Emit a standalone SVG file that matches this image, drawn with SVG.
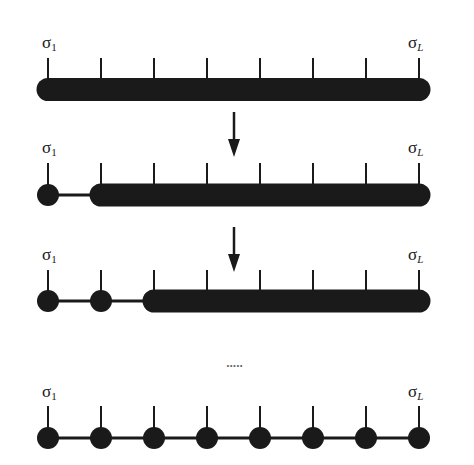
<svg xmlns="http://www.w3.org/2000/svg" width="474" height="465" viewBox="0 0 474 465">
<defs>
<style>
.tk{stroke:#1a1a1a;stroke-width:2}
.ln{stroke:#1a1a1a;stroke-width:3}
.bar{stroke:#1a1a1a;stroke-width:23;stroke-linecap:round}
.dot{fill:#1a1a1a}
.ar{stroke:#1a1a1a;stroke-width:2.5}
.lb{font-family:"Liberation Serif",serif;font-size:17px;fill:#1a1a1a}
.sb{font-size:11px}
</style>
<marker id="ah" viewBox="0 0 18 12" refX="11" refY="6" markerWidth="18" markerHeight="12" markerUnits="userSpaceOnUse" orient="auto">
<path d="M0,0 L18,6 L0,12 Z" fill="#1a1a1a"/>
</marker>
</defs>
<rect width="474" height="465" fill="#fff"/>
<g id="connectors">
<line class="ln" x1="48" y1="195" x2="101" y2="195"/>
<line class="ln" x1="48" y1="301" x2="154" y2="301"/>
<line class="ln" x1="48" y1="438" x2="419" y2="438"/>
<line class="ar" x1="234" y1="112" x2="234" y2="150" marker-end="url(#ah)"/>
<line class="ar" x1="234" y1="227" x2="234" y2="265" marker-end="url(#ah)"/>
</g>
<g id="row1">
<path class="tk" d="M48,58V89M101,58V89M154,58V89M207,58V89M260,58V89M313,58V89M366,58V89M419,58V89"/>
<line class="bar" x1="48" y1="89.5" x2="419" y2="89.5"/>
<text class="lb" x="42" y="48">σ<tspan class="sb" dy="3">1</tspan></text>
<text class="lb" x="408" y="48">σ<tspan class="sb" dy="3" font-style="italic">L</tspan></text>
</g>
<g id="row2">
<path class="tk" d="M48,163V195M101,163V195M154,163V195M207,163V195M260,163V195M313,163V195M366,163V195M419,163V195"/>
<circle class="dot" cx="48" cy="195" r="11"/>
<line class="bar" x1="101" y1="195" x2="419" y2="195"/>
<text class="lb" x="42" y="153">σ<tspan class="sb" dy="3">1</tspan></text>
<text class="lb" x="408" y="153">σ<tspan class="sb" dy="3" font-style="italic">L</tspan></text>
</g>
<g id="row3">
<path class="tk" d="M48,270V301M101,270V301M154,270V301M207,270V301M260,270V301M313,270V301M366,270V301M419,270V301"/>
<circle class="dot" cx="48" cy="301" r="11"/>
<circle class="dot" cx="101" cy="301" r="11"/>
<line class="bar" x1="154" y1="301" x2="419" y2="301"/>
<text class="lb" x="42" y="260">σ<tspan class="sb" dy="3">1</tspan></text>
<text class="lb" x="408" y="260">σ<tspan class="sb" dy="3" font-style="italic">L</tspan></text>
</g>
<g id="ellipsis">
<text x="234.5" y="367" text-anchor="middle" font-family="Liberation Sans,sans-serif" font-size="12" font-weight="bold" fill="#666">.....</text>
</g>
<g id="row4">
<path class="tk" d="M48,406V438M101,406V438M154,406V438M207,406V438M260,406V438M313,406V438M366,406V438M419,406V438"/>
<circle class="dot" cx="48" cy="438" r="11"/>
<circle class="dot" cx="101" cy="438" r="11"/>
<circle class="dot" cx="154" cy="438" r="11"/>
<circle class="dot" cx="207" cy="438" r="11"/>
<circle class="dot" cx="260" cy="438" r="11"/>
<circle class="dot" cx="313" cy="438" r="11"/>
<circle class="dot" cx="366" cy="438" r="11"/>
<circle class="dot" cx="419" cy="438" r="11"/>
<text class="lb" x="42" y="397">σ<tspan class="sb" dy="3">1</tspan></text>
<text class="lb" x="408" y="397">σ<tspan class="sb" dy="3" font-style="italic">L</tspan></text>
</g>
</svg>
